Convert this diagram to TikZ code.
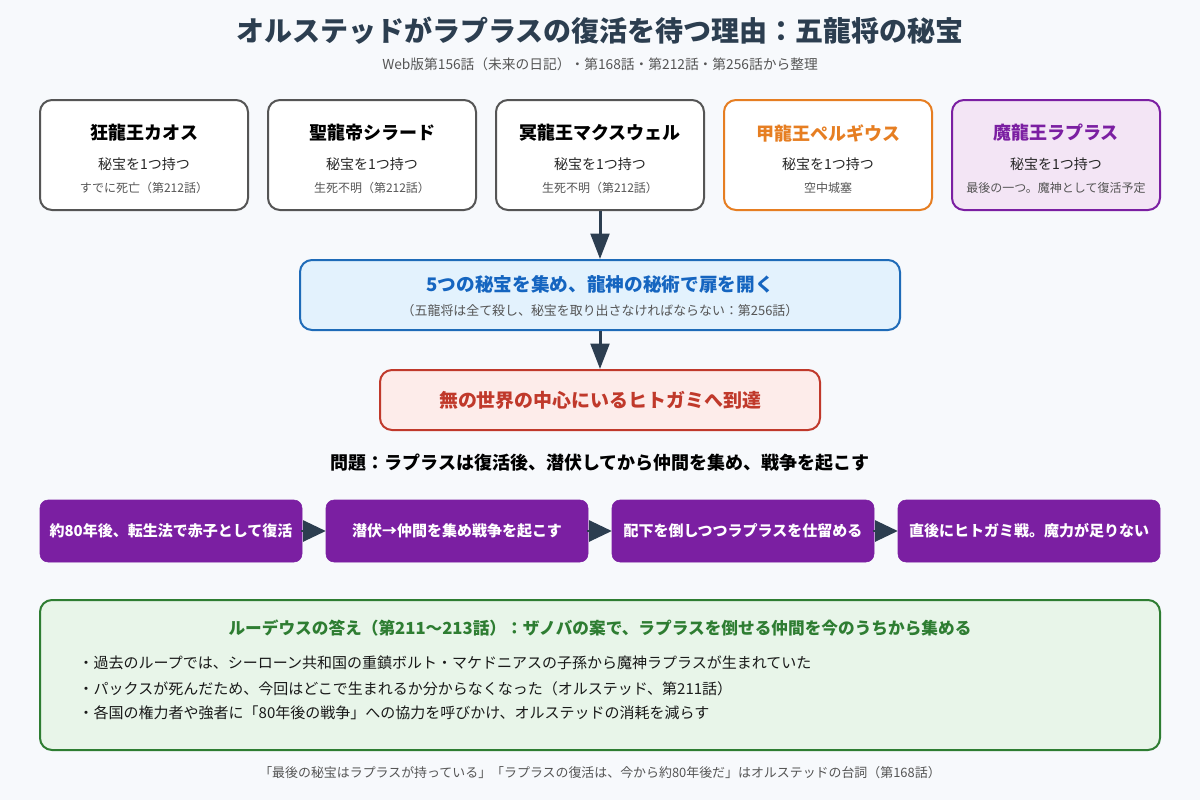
\documentclass[tikz,border=0pt]{standalone}
\usepackage{fontspec}
\setmainfont{Noto Sans CJK JP}
\usetikzlibrary{arrows.meta,positioning}
\definecolor{bg}{HTML}{F7F9FC}
\definecolor{ink}{HTML}{2C3E50}
\definecolor{sub}{HTML}{555555}
\definecolor{grayb}{HTML}{555555}
\definecolor{orng}{HTML}{E67E22}
\definecolor{purp}{HTML}{7B1FA2}
\definecolor{purpbg}{HTML}{F3E5F5}
\definecolor{blueb}{HTML}{1E6BB8}
\definecolor{bluet}{HTML}{1565C0}
\definecolor{bluebg}{HTML}{E3F2FD}
\definecolor{redb}{HTML}{C0392B}
\definecolor{redbg}{HTML}{FDECEA}
\definecolor{grn}{HTML}{2E7D32}
\definecolor{grnbg}{HTML}{E8F5E9}
\tikzset{
  card/.style={draw=grayb,line width=1.5pt,fill=white,rounded corners=9pt,minimum width=156pt,minimum height=82.5pt,inner sep=0pt},
  ctitle/.style={font=\bfseries\fontsize{13.5}{15}\selectfont,text=black},
  cline/.style={font=\fontsize{10.5}{12}\selectfont,text=black!85},
  csmall/.style={font=\fontsize{9}{10}\selectfont,text=sub},
  flow/.style={draw=purp,fill=purp,rounded corners=6pt,minimum width=196.5pt,minimum height=46.5pt,inner sep=0pt,text=white,font=\bfseries\fontsize{11.25}{13}\selectfont},
  bigarrow/.style={draw=ink,line width=2.25pt,-{Triangle[length=19pt,width=14pt]}},
  smallarrow/.style={draw=ink,line width=1pt,-{Triangle[length=17pt,width=16pt]},shorten <=-1pt},
  bullet/.style={anchor=west,font=\fontsize{11.25}{13}\selectfont,text=black!90}
}
\begin{document}
\begin{tikzpicture}[x=0.75pt,y=-0.75pt]
\useasboundingbox (0,0) rectangle (1200,800);
\fill[bg] (0,0) rectangle (1200,800);
% title
\node[font=\bfseries\fontsize{21}{24}\selectfont,text=ink] (title) at (600,31) {オルステッドがラプラスの復活を待つ理由：五龍将の秘宝};
\node[font=\fontsize{10.3}{12}\selectfont,text=sub] (subtitle) at (600,64) {Web版第156話（未来の日記）・第168話・第212話・第256話から整理};
% cards
\node[card] (c1) at (144,155) {};
\node[ctitle] (c1t) at (144,133) {狂龍王カオス};
\node[cline] (c1a) at (144,164) {秘宝を1つ持つ};
\node[csmall] (c1b) at (144,188) {すでに死亡（第212話）};
\node[card] (c2) at (372,155) {};
\node[ctitle] (c2t) at (372,133) {聖龍帝シラード};
\node[cline] (c2a) at (372,164) {秘宝を1つ持つ};
\node[csmall] (c2b) at (372,188) {生死不明（第212話）};
\node[card] (c3) at (600,155) {};
\node[ctitle] (c3t) at (600,133) {冥龍王マクスウェル};
\node[cline] (c3a) at (600,164) {秘宝を1つ持つ};
\node[csmall] (c3b) at (600,188) {生死不明（第212話）};
\node[card,draw=orng] (c4) at (828,155) {};
\node[ctitle,text=orng] (c4t) at (828,133) {甲龍王ペルギウス};
\node[cline] (c4a) at (828,164) {秘宝を1つ持つ};
\node[csmall] (c4b) at (828,188) {空中城塞};
\node[card,draw=purp,fill=purpbg] (c5) at (1056,155) {};
\node[ctitle,text=purp] (c5t) at (1056,133) {魔龍王ラプラス};
\node[cline] (c5a) at (1056,164) {秘宝を1つ持つ};
\node[csmall] (c5b) at (1056,188) {最後の一つ。魔神として復活予定};
% blue box
\node[draw=blueb,line width=1.5pt,fill=bluebg,rounded corners=9pt,minimum width=450pt,minimum height=52.5pt,inner sep=0pt] (blue) at (600,295) {};
\node[font=\bfseries\fontsize{14}{16}\selectfont,text=bluet] (bluet) at (600,285) {5つの秘宝を集め、龍神の秘術で扉を開く};
\node[font=\fontsize{9.7}{11}\selectfont,text=sub] (blues) at (600,311) {（五龍将は全て殺し、秘宝を取り出さなければならない：第256話）};
% red box
\node[draw=redb,line width=1.5pt,fill=redbg,rounded corners=9pt,minimum width=330pt,minimum height=45pt,inner sep=0pt,font=\bfseries\fontsize{14.2}{16}\selectfont,text=redb] (red) at (600,400) {無の世界の中心にいるヒトガミへ到達};
\draw[bigarrow] (c3.south) -- (blue.north);
\draw[bigarrow] (blue.south) -- (red.north);
% problem
\node[font=\bfseries\fontsize{13.5}{15}\selectfont,text=black] (prob) at (600,463) {問題：ラプラスは復活後、潜伏してから仲間を集め、戦争を起こす};
% flow
\node[flow] (f1) at (171,531) {約80年後、転生法で赤子として復活};
\node[flow] (f2) at (457,531) {潜伏→仲間を集め戦争を起こす};
\node[flow] (f3) at (743,531) {配下を倒しつつラプラスを仕留める};
\node[flow] (f4) at (1029,531) {直後にヒトガミ戦。魔力が足りない};
\draw[smallarrow] (f1.east) -- (f2.west);
\draw[smallarrow] (f2.east) -- (f3.west);
\draw[smallarrow] (f3.east) -- (f4.west);
% green box
\node[draw=grn,line width=1.5pt,fill=grnbg,rounded corners=9pt,minimum width=840pt,minimum height=112.5pt,inner sep=0pt] (green) at (600,675) {};
\node[font=\bfseries\fontsize{12.5}{14}\selectfont,text=grn] (greent) at (600,628) {ルーデウスの答え（第211〜213話）：ザノバの案で、ラプラスを倒せる仲間を今のうちから集める};
\node[bullet] (b1) at (74,663) {・過去のループでは、シーローン共和国の重鎮ボルト・マケドニアスの子孫から魔神ラプラスが生まれていた};
\node[bullet] (b2) at (74,689) {・パックスが死んだため、今回はどこで生まれるか分からなくなった（オルステッド、第211話）};
\node[bullet] (b3) at (74,713) {・各国の権力者や強者に「80年後の戦争」への協力を呼びかけ、オルステッドの消耗を減らす};
% footer
\node[font=\fontsize{9.7}{11}\selectfont,text=sub] (foot) at (600,773) {「最後の秘宝はラプラスが持っている」「ラプラスの復活は、今から約80年後だ」はオルステッドの台詞（第168話）};
\end{tikzpicture}
\end{document}
